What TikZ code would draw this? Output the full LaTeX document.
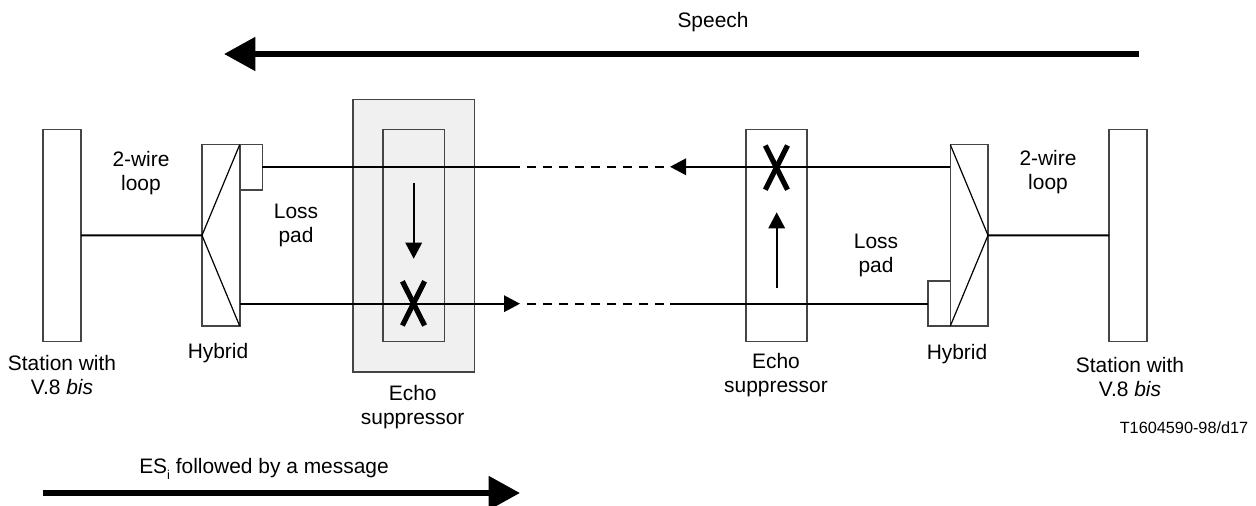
\documentclass[tikz,border=0pt]{standalone}
\usepackage{fontspec}
\setmainfont{Liberation Sans}
\usetikzlibrary{arrows.meta}
\definecolor{boxline}{gray}{0.27}
\tikzset{
  x=0.75pt,y=-0.75pt,
  boxshape/.style={draw=boxline,line width=1.2pt,fill=white,inner sep=0pt,outer sep=0pt,minimum width=0pt,minimum height=0pt},
  thin wire/.style={line width=0.9pt,black},
  wire/.style={line width=1.5pt,black},
  dashwire/.style={line width=1.5pt,black,dash pattern=on 6.9pt off 5.1pt},
  headed/.style={-{Triangle[length=12pt,width=12.3pt]}},
  bigarrow/.style={line width=4.5pt,-{Triangle[length=23.5pt,width=24.5pt]}},
  cross/.style={line width=3.9pt,black},
  label/.style={font=\fontsize{15.7pt}{17.9pt}\selectfont,align=center,inner sep=0pt},
}
\newcommand{\rectnode}[6]{\node[boxshape,#6,minimum width=#4*0.75pt,minimum height=#5*0.75pt,anchor=north west] (#1) at (#2,#3) {};}
\begin{document}
\begin{tikzpicture}
\useasboundingbox (0,0) rectangle (1256,506);
% stations
\rectnode{stl}{43}{129.5}{38}{212}{}
\rectnode{str}{1109}{129.5}{38}{212}{}
% hybrids
\rectnode{hyl}{202}{144.7}{37.7}{181.3}{}
\rectnode{hyr}{950.3}{144.7}{37.7}{181.3}{}
\rectnode{padl}{239.7}{144.7}{22.6}{45.3}{}
\rectnode{padr}{927.7}{280.7}{22.6}{45.3}{}
% echo suppressors
\rectnode{esout}{352.7}{99.5}{121.6}{272.5}{fill=black!6}
\rectnode{esl}{382.7}{129.5}{61.6}{212}{fill=black!6}
\rectnode{esr}{746}{129.5}{61}{212}{}
% hybrid internals
\coordinate (ax) at (hyl.west);
\coordinate (bx) at (hyr.east);
\draw[thin wire] (hyl.north east) -- (ax) -- (hyl.south east);
\draw[thin wire] (hyr.north west) -- (bx) -- (hyr.south west);
% station connections
\draw[wire] (stl.east) -- (ax);
\draw[wire] (bx) -- (str.west);
% top line
\coordinate (t0) at (262.3,166.8);
\coordinate (t1) at (520,166.8);
\coordinate (t2) at (670,166.8);
\coordinate (t3) at (950.3,166.8);
\coordinate (t4) at (527,166.8);
\coordinate (t5) at (664,166.8);
\draw[wire] (t0) -- (t1);
\draw[dashwire] (t4) -- (t5);
\draw[wire,headed] (t3) -- (t2);
% bottom line
\coordinate (b0) at (239.7,303.7);
\coordinate (b1) at (520,303.7);
\coordinate (b2) at (670,303.7);
\coordinate (b3) at (927.7,303.7);
\coordinate (b4) at (527,303.7);
\coordinate (b5) at (664,303.7);
\draw[wire,headed] (b0) -- (b1);
\draw[dashwire] (b4) -- (b5);
\draw[wire] (b2) -- (b3);
% arrows inside suppressors
\coordinate (d1) at (413.7,182.7);
\coordinate (d2) at (413.7,258.7);
\coordinate (u1) at (776.7,288);
\coordinate (u2) at (776.7,212.3);
\draw[wire,headed] (d1) -- (d2);
\draw[wire,headed] (u1) -- (u2);
% crosses
\draw[cross] (402.4,281.3) -- (424.6,325.5);
\draw[cross] (424.6,281.3) -- (402.4,325.5);
\draw[cross] (765.3,145.5) -- (787.5,189.7);
\draw[cross] (787.5,145.5) -- (765.3,189.7);
% big arrows
\coordinate (sp1) at (1139,54);
\coordinate (sp2) at (224,54);
\coordinate (es1) at (43,493);
\coordinate (es2) at (520,493);
\draw[bigarrow] (sp1) -- (sp2);
\draw[bigarrow] (es1) -- (es2);
% labels
\node[label] (speech) at (713,22.5) {Speech};
\node[label] (w1) at (141,173) {2-wire\\loop};
\node[label] (w2) at (1048,172) {2-wire\\loop};
\node[label] (lp1) at (296,225.5) {Loss\\pad};
\node[label] (lp2) at (876,255.5) {Loss\\pad};
\node[label] (h1) at (218,353.5) {Hybrid};
\node[label] (h2) at (957,354.5) {Hybrid};
\node[label] (s1) at (62,375) {Station with\\V.8 \textit{bis}};
\node[label] (s2) at (1130,377) {Station with\\V.8 \textit{bis}};
\node[label] (e1) at (412.7,407.5) {Echo\\suppressor};
\node[label] (e2) at (776,375.5) {Echo\\suppressor};
\node[label,font=\fontsize{12.2pt}{14pt}\selectfont] (code) at (1184,427.2) {T1604590-98/d17};
\node[label] (msg) at (264,469) {ES\raisebox{-5pt}{\fontsize{9.5pt}{11pt}\selectfont i} followed by a message};
\end{tikzpicture}
\end{document}
